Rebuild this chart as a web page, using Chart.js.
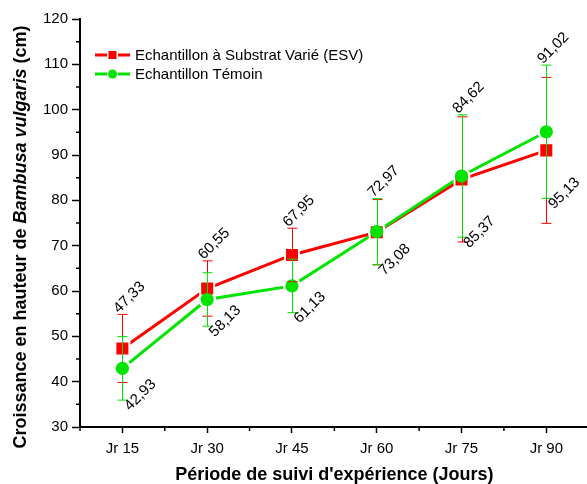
<!DOCTYPE html>
<html>
<head>
<meta charset="utf-8">
<script src="https://cdn.jsdelivr.net/npm/chart.js@4.4.0/dist/chart.umd.min.js"></script>
<style>
  html, body { margin: 0; padding: 0; background: #fff; overflow: hidden; }
  #cadre { width: 587px; height: 484px; overflow: hidden; }
  canvas { display: block; }
</style>
</head>
<body>
<div id="cadre"><canvas id="grafico" width="600" height="484"></canvas></div>
<script>
// Données
const jours = ['Jr 15', 'Jr 30', 'Jr 45', 'Jr 60', 'Jr 75', 'Jr 90']
const hauteurESV = [47.33, 60.55, 67.95, 72.97, 84.62, 91.02]
const hauteurTemoin = [42.93, 58.13, 61.13, 73.08, 85.37, 95.13]
const erreurESV = [7.5, 6.1, 5.9, 7.2, 13.8, 16.1]
const erreurTemoin = [7.0, 5.9, 5.9, 7.3, 13.5, 14.7]
const minorY = [35, 45, 55, 65, 75, 85, 95, 105, 115]

const ROUGE = '#ff0000'
const VERT = '#00e400'
const POLICE = '"Liberation Sans", Arial, sans-serif'

const ctx = document.getElementById('grafico')

const fmt = v => v.toFixed(2).replace('.', ',')

// Barres d'erreur (dessinées au-dessus des marqueurs)
const barresErreur = {
  id: 'barresErreur',
  afterDatasetsDraw(chart) {
    const c = chart.ctx
    const x = chart.scales.x, y = chart.scales.y
    const series = [
      { val: hauteurESV, err: erreurESV, col: ROUGE },
      { val: hauteurTemoin, err: erreurTemoin, col: VERT }
    ]
    c.save()
    c.lineWidth = 1
    series.forEach(s => {
      c.strokeStyle = s.col
      s.val.forEach((v, i) => {
        const px = Math.round(x.getPixelForValue(i)) + 0.5
        const yh = y.getPixelForValue(v + s.err[i])
        const yb = y.getPixelForValue(v - s.err[i])
        c.beginPath()
        c.moveTo(px, yh); c.lineTo(px, yb)
        c.moveTo(px - 5, yh); c.lineTo(px + 5, yh)
        c.moveTo(px - 5, yb); c.lineTo(px + 5, yb)
        c.stroke()
      })
    })
    c.restore()
  }
}

// Étiquettes de valeurs, inclinées à 45°
const etiquettes = {
  id: 'etiquettes',
  afterDatasetsDraw(chart) {
    const c = chart.ctx
    const x = chart.scales.x, y = chart.scales.y
    c.save()
    c.font = '15px ' + POLICE
    c.fillStyle = '#000'
    c.textAlign = 'center'
    c.textBaseline = 'middle'
    const ecrire = (txt, px, py) => {
      c.save()
      c.translate(px, py)
      c.rotate(-Math.PI / 4)
      c.fillText(txt, 0, 0)
      c.restore()
    }
    jours.forEach((_, i) => {
      const px = x.getPixelForValue(i)
      const haut = Math.min(
        y.getPixelForValue(hauteurESV[i] + erreurESV[i]),
        y.getPixelForValue(hauteurTemoin[i] + erreurTemoin[i])
      )
      const bas = y.getPixelForValue(hauteurTemoin[i] - erreurTemoin[i])
      ecrire(fmt(hauteurESV[i]), px + 7, haut - 17)
      ecrire(fmt(hauteurTemoin[i]), px + 18, bas - 5)
    })
    c.restore()
  }
}

// Graduations secondaires, légende et titres des axes
const habillage = {
  id: 'habillage',
  afterDraw(chart) {
    const c = chart.ctx
    const x = chart.scales.x, y = chart.scales.y
    const a = chart.chartArea
    c.save()
    c.strokeStyle = '#000'
    c.lineWidth = 1.5
    c.beginPath()
    minorY.forEach(v => {
      const py = y.getPixelForValue(v)
      c.moveTo(a.left - 4, py); c.lineTo(a.left, py)
    })
    const pos = jours.map((_, i) => x.getPixelForValue(i))
    const mid = [a.left]
    for (let i = 0; i < pos.length - 1; i++) mid.push((pos[i] + pos[i + 1]) / 2)
    mid.forEach(px => { c.moveTo(px, a.bottom); c.lineTo(px, a.bottom + 4) })
    c.stroke()

    // légende
    const lignes = [
      { txt: 'Echantillon à Substrat Varié (ESV)', col: ROUGE, forme: 'carre', yy: 55 },
      { txt: 'Echantillon Témoin', col: VERT, forme: 'rond', yy: 74 }
    ]
    lignes.forEach(l => {
      c.strokeStyle = l.col
      c.fillStyle = l.col
      c.lineWidth = 3
      c.beginPath()
      c.moveTo(95, l.yy); c.lineTo(107, l.yy)
      c.moveTo(118, l.yy); c.lineTo(130, l.yy)
      c.stroke()
      if (l.forme === 'carre') {
        c.fillRect(108.5, l.yy - 4, 8, 8)
      } else {
        c.beginPath(); c.arc(112.5, l.yy, 4.5, 0, Math.PI * 2); c.fill()
      }
      c.fillStyle = '#000'
      c.font = '15px ' + POLICE
      c.textAlign = 'left'
      c.textBaseline = 'middle'
      c.fillText(l.txt, 135, l.yy + 1)
    })

    // titre axe X
    c.fillStyle = '#000'
    c.font = 'bold 18px ' + POLICE
    c.textAlign = 'center'
    c.textBaseline = 'middle'
    c.fillText("Période de suivi d'expérience (Jours)", (a.left + a.right) / 2, 475)

    // titre axe Y (partie en italique)
    const morceaux = [
      { t: 'Croissance en hauteur de ', f: 'bold 18px ' + POLICE },
      { t: 'Bambusa vulgaris', f: 'italic bold 18px ' + POLICE },
      { t: ' (cm)', f: 'bold 18px ' + POLICE }
    ]
    let total = 0
    morceaux.forEach(m => { c.font = m.f; m.w = c.measureText(m.t).width; total += m.w })
    c.translate(21, 237)
    c.rotate(-Math.PI / 2)
    c.textAlign = 'left'
    let cx = -total / 2
    morceaux.forEach(m => { c.font = m.f; c.fillText(m.t, cx, 0); cx += m.w })
    c.restore()
  }
}

const commun = { fill: false, pointHoverRadius: 0 }

new Chart(ctx, {
  type: 'line',
  data: {
    labels: jours,
    datasets: [
      { ...commun, data: hauteurESV, borderColor: ROUGE, borderWidth: 3, pointRadius: 0, order: 5 },
      { ...commun, data: hauteurTemoin, borderColor: VERT, borderWidth: 3, pointRadius: 0, order: 4 },
      { ...commun, data: hauteurESV, showLine: false, pointStyle: 'rect', pointRadius: 11.3,
        pointBackgroundColor: '#fff', pointBorderWidth: 0, order: 3 },
      { ...commun, data: hauteurTemoin, showLine: false, pointStyle: 'circle', pointRadius: 9,
        pointBackgroundColor: '#fff', pointBorderWidth: 0, order: 2 },
      { ...commun, data: hauteurESV, showLine: false, pointStyle: 'rect', pointRadius: 8.5,
        pointBackgroundColor: ROUGE, pointBorderWidth: 0, order: 1 },
      { ...commun, data: hauteurTemoin, showLine: false, pointStyle: 'circle', pointRadius: 6.6,
        pointBackgroundColor: VERT, pointBorderWidth: 0, order: 0 }
    ]
  },
  options: {
    responsive: false,
    animation: false,
    devicePixelRatio: 1,
    layout: { padding: { top: 19, left: 0, right: 4, bottom: 0 } },
    plugins: { legend: { display: false }, tooltip: { enabled: false } },
    scales: {
      x: {
        type: 'category',
        offset: true,
        afterFit: s => { s.height = 57 },
        grid: { display: true, drawOnChartArea: false, offset: false, tickLength: 6, tickColor: '#000', tickWidth: 1.5 },
        border: { display: true, color: '#000', width: 2 },
        ticks: { color: '#000', font: { size: 15, family: POLICE }, padding: 7, maxRotation: 0 }
      },
      y: {
        min: 30, max: 120,
        afterFit: s => { s.width = 80 },
        grid: { display: true, drawOnChartArea: false, tickLength: 8, tickColor: '#000', tickWidth: 1.5 },
        border: { display: true, color: '#000', width: 2 },
        ticks: { stepSize: 10, color: '#000', font: { size: 15, family: POLICE }, padding: 4 }
      }
    }
  },
  plugins: [barresErreur, etiquettes, habillage]
})
</script>
</body>
</html>
